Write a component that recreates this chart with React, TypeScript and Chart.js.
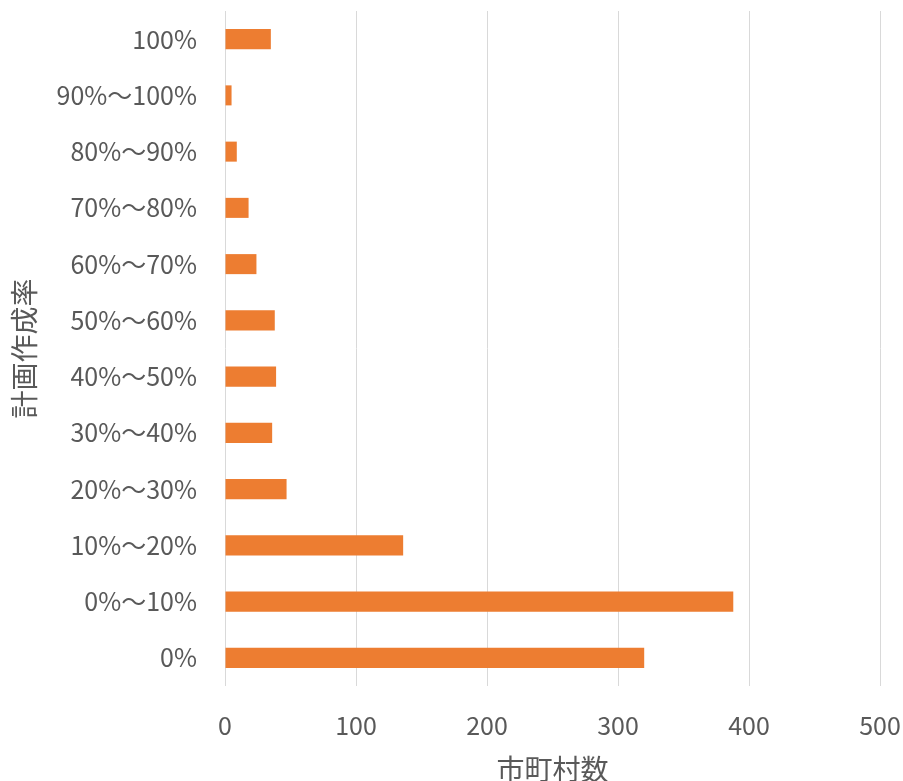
import React, { useEffect, useRef } from "react";
import { Chart, registerables } from "chart.js";

Chart.register(...registerables);

const categories = [
  "100%",
  "90%～100%",
  "80%～90%",
  "70%～80%",
  "60%～70%",
  "50%～60%",
  "40%～50%",
  "30%～40%",
  "20%～30%",
  "10%～20%",
  "0%～10%",
  "0%",
];
const counts = [35, 5, 9, 18, 24, 38, 39, 36, 47, 136, 388, 320];
const xTitle = "市町村数";
const yTitle = "計画作成率";
const xMin = 0;
const xMax = 500;
const xStep = 100;

const FONT = "'Noto Sans CJK JP', 'Noto Sans', sans-serif";
const TEXT = "#595959";
const W = 903;
const H = 781;

export default function App() {
  const ref = useRef<HTMLCanvasElement | null>(null);
  useEffect(() => {
    if (!ref.current) return;
    const chart = new Chart(ref.current, {
      type: "bar",
      data: {
        labels: categories,
        datasets: [
          {
            data: counts,
            backgroundColor: "#ED7D31",
            borderWidth: 0,
            barPercentage: 0.356,
            categoryPercentage: 1,
          },
        ],
      },
      options: {
        indexAxis: "y",
        animation: false,
        responsive: false,
        maintainAspectRatio: false,
        layout: { padding: { top: 11, right: 23, bottom: 0, left: 8 } },
        plugins: { legend: { display: false }, tooltip: { enabled: false } },
        scales: {
          x: {
            min: xMin,
            max: xMax,
            ticks: { stepSize: xStep, color: TEXT, font: { family: FONT, size: 25 }, padding: 0 },
            grid: { color: "#d9d9d9", lineWidth: 1, drawTicks: true, tickLength: 24, tickColor: "rgba(0,0,0,0)" },
            border: { display: false },
            title: { display: true, text: xTitle, color: TEXT, font: { family: FONT, size: 28 }, padding: { top: 0, bottom: -5 } },
            afterFit: (s: any) => {
              s.height = 95;
              s.paddingLeft = 0;
              s.paddingRight = 0;
            },
          },
          y: {
            ticks: { color: TEXT, font: { family: FONT, size: 25 }, padding: 0 },
            grid: { display: true, color: "rgba(0,0,0,0)", drawTicks: true, tickLength: 28, tickColor: "rgba(0,0,0,0)" },
            border: { display: false },
            title: { display: true, text: yTitle, color: TEXT, font: { family: FONT, size: 28 }, padding: { top: 0, bottom: 0 } },
            afterFit: (s: any) => {
              s.width = 217;
              s.paddingTop = 0;
              s.paddingBottom = 0;
            },
          },
        },
      },
    });
    return () => chart.destroy();
  }, []);
  return (
    <div style={{ position: "fixed", left: 0, top: 0, width: W, height: H, background: "#fff" }}>
      <canvas ref={ref} width={W} height={H} style={{ width: W, height: H }} />
    </div>
  );
}
